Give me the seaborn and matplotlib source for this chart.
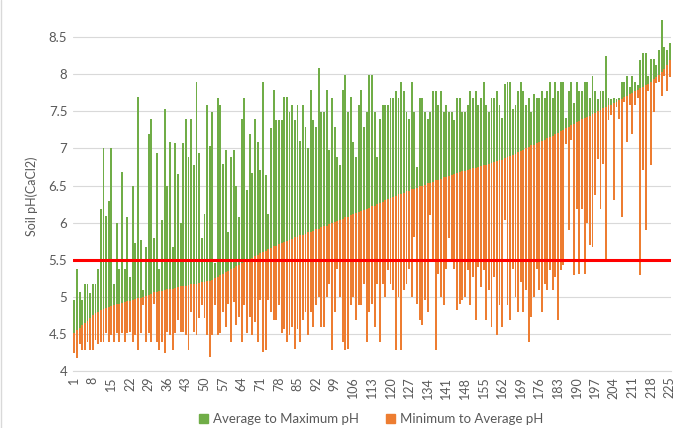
import pandas as pd
import matplotlib
matplotlib.use("Agg")
import matplotlib.pyplot as plt
import seaborn as sns
from matplotlib.patches import Patch
from matplotlib.lines import Line2D

# soil pH per site, sorted by average
ph_min = [
    4.24, 4.17, 4.37, 4.28, 4.28, 4.39, 4.28, 4.28, 4.42,
    4.37, 4.39, 4.39, 4.51, 4.39, 4.48, 4.39, 4.51, 4.39, 4.51, 4.39, 4.51, 4.53, 4.39, 4.48, 4.28, 4.51, 4.89, 4.39, 4.51, 4.39, 4.91,
    4.39, 4.28, 4.39, 4.24, 4.53, 4.48, 4.28, 4.51, 4.69, 4.53, 4.53, 4.48, 4.28, 4.80, 4.53, 4.48, 4.71, 4.89, 4.71, 4.48, 4.19, 4.48,
    4.89, 4.48, 4.51, 4.80, 4.60, 4.91, 4.39, 4.93, 4.62, 4.73, 4.39, 4.89, 4.51, 4.73, 4.48, 4.66, 4.39, 4.96, 4.26, 4.28, 4.96, 4.80,
    4.69, 4.69, 4.89, 4.51, 4.57, 4.39, 4.48, 4.60, 4.30, 4.57, 4.39, 4.69, 4.80, 4.48, 4.80, 4.60, 4.89, 5.00, 4.60, 4.60, 5.00, 5.18,
    4.28, 4.80, 5.38, 5.00, 4.39, 4.28, 4.30, 4.89, 5.00, 4.69, 4.89, 4.89, 5.18, 4.39, 4.80, 4.91, 4.60, 5.18, 4.39, 5.18, 5.00, 5.36,
    5.18, 5.09, 4.28, 5.00, 4.28, 5.09, 5.18, 5.38, 5.00, 5.81, 4.91, 4.69, 4.62, 4.96, 4.80, 6.10, 5.49, 4.28, 5.31, 5.00, 4.89, 5.38,
    5.79, 5.49, 5.38, 4.82, 4.91, 4.96, 5.00, 5.36, 4.89, 5.27, 4.69, 5.40, 5.13, 5.36, 4.69, 5.09, 4.60, 5.27, 4.48, 4.89, 4.60, 6.03,
    4.89, 4.69, 5.38, 5.00, 4.80, 5.20, 4.80, 5.09, 4.39, 4.73, 5.00, 5.38, 5.09, 4.80, 5.18, 5.09, 5.36, 5.09, 5.27, 4.69, 5.36, 5.43,
    7.06, 5.90, 7.11, 5.29, 6.19, 5.31, 6.19, 5.31, 5.99, 5.70, 5.67, 6.37, 6.86, 6.19, 6.79, 5.49, 7.38, 7.45, 6.30, 7.56, 7.40, 6.08,
    7.62, 7.09, 7.58, 7.20, 7.58, 7.68, 5.29, 6.71, 5.90, 7.78, 6.77, 7.49, 7.88, 7.90, 7.71, 7.98, 7.78, 7.96,
]
ph_avg = [
    4.51, 4.55, 4.58, 4.62, 4.65, 4.68, 4.71, 4.75, 4.78,
    4.80, 4.82, 4.84, 4.85, 4.87, 4.88, 4.89, 4.90, 4.91, 4.92, 4.93, 4.94, 4.95, 4.96, 4.97, 4.98, 4.99, 5.00, 5.01, 5.03, 5.04, 5.06,
    5.07, 5.08, 5.08, 5.09, 5.10, 5.11, 5.11, 5.12, 5.13, 5.14, 5.14, 5.15, 5.16, 5.17, 5.17, 5.18, 5.19, 5.20, 5.20, 5.21, 5.22, 5.23,
    5.25, 5.27, 5.29, 5.31, 5.33, 5.35, 5.37, 5.39, 5.41, 5.43, 5.45, 5.47, 5.49, 5.51, 5.53, 5.55, 5.57, 5.59, 5.61, 5.62, 5.64, 5.66,
    5.68, 5.69, 5.71, 5.72, 5.74, 5.75, 5.77, 5.78, 5.80, 5.81, 5.83, 5.84, 5.85, 5.87, 5.88, 5.89, 5.91, 5.92, 5.94, 5.95, 5.96, 5.98,
    5.99, 6.01, 6.02, 6.04, 6.05, 6.07, 6.08, 6.10, 6.11, 6.13, 6.14, 6.16, 6.17, 6.19, 6.20, 6.22, 6.23, 6.25, 6.27, 6.28, 6.30, 6.32,
    6.33, 6.35, 6.36, 6.38, 6.39, 6.40, 6.42, 6.43, 6.45, 6.46, 6.47, 6.49, 6.50, 6.51, 6.53, 6.54, 6.55, 6.57, 6.58, 6.59, 6.61, 6.62,
    6.63, 6.64, 6.65, 6.67, 6.68, 6.69, 6.70, 6.71, 6.72, 6.73, 6.74, 6.75, 6.76, 6.77, 6.78, 6.79, 6.80, 6.82, 6.83, 6.84, 6.85, 6.87,
    6.88, 6.90, 6.91, 6.93, 6.95, 6.97, 6.98, 7.00, 7.02, 7.04, 7.05, 7.07, 7.09, 7.10, 7.12, 7.14, 7.15, 7.17, 7.19, 7.21, 7.23, 7.25,
    7.27, 7.29, 7.31, 7.33, 7.35, 7.37, 7.39, 7.41, 7.42, 7.44, 7.46, 7.48, 7.50, 7.52, 7.54, 7.56, 7.58, 7.59, 7.61, 7.63, 7.65, 7.67,
    7.69, 7.71, 7.73, 7.75, 7.77, 7.79, 7.81, 7.83, 7.85, 7.87, 7.90, 7.93, 7.96, 7.99, 8.03, 8.07, 8.12, 8.19,
]
ph_max = [
    4.96, 5.38, 5.07, 4.96, 5.18, 5.18, 5.05, 5.18, 5.18,
    5.38, 6.19, 7.00, 6.09, 6.29, 7.00, 5.18, 5.99, 5.38, 6.68, 5.38, 6.08, 5.27, 6.49, 5.72, 7.69, 5.76, 5.09, 5.67, 7.19, 7.39, 5.79,
    6.94, 5.38, 6.03, 7.53, 6.50, 7.09, 5.67, 7.07, 6.65, 5.99, 7.07, 7.39, 6.88, 7.39, 6.77, 7.89, 6.94, 5.79, 6.12, 7.58, 7.03, 7.49,
    5.45, 7.68, 7.58, 6.79, 6.98, 5.88, 6.88, 6.98, 6.49, 6.08, 7.39, 7.68, 6.44, 7.19, 6.67, 7.39, 7.09, 6.71, 7.89, 6.64, 6.12, 7.28,
    7.79, 7.38, 7.38, 7.38, 7.69, 7.69, 7.49, 7.59, 7.38, 7.59, 7.10, 7.59, 7.29, 7.00, 7.79, 7.38, 7.29, 8.09, 7.49, 7.49, 7.79, 6.98,
    7.68, 7.29, 6.88, 6.78, 7.79, 7.99, 7.49, 7.69, 7.09, 6.88, 7.58, 7.79, 7.29, 7.49, 7.99, 7.99, 7.49, 6.88, 7.39, 7.59, 7.59, 7.59,
    7.68, 7.68, 7.78, 7.68, 7.89, 7.78, 7.49, 7.39, 7.89, 7.49, 6.75, 7.68, 7.68, 7.49, 7.39, 7.49, 7.78, 7.78, 7.59, 7.78, 7.49, 7.59,
    7.49, 7.49, 7.38, 7.68, 7.68, 7.49, 7.49, 7.59, 7.78, 7.68, 7.78, 7.59, 7.68, 7.89, 7.59, 7.49, 7.68, 7.68, 7.78, 7.59, 7.41, 7.87,
    7.89, 7.89, 7.53, 7.58, 7.78, 7.89, 7.78, 7.58, 7.68, 7.49, 7.73, 7.68, 7.68, 7.78, 7.68, 7.78, 7.89, 7.68, 7.89, 7.78, 7.89, 7.89,
    7.41, 7.78, 7.89, 7.61, 7.89, 7.78, 7.78, 7.89, 7.89, 7.68, 7.98, 7.78, 7.67, 7.78, 7.78, 8.25, 7.68, 7.67, 7.68, 7.66, 7.68, 7.89,
    7.89, 7.98, 7.83, 7.98, 7.89, 7.85, 8.19, 8.28, 8.28, 7.98, 8.20, 8.20, 8.12, 8.32, 8.73, 8.37, 8.32, 8.42,
]
sites = list(range(1, len(ph_avg) + 1))
y_ticks = [4, 4.5, 5, 5.5, 6, 6.5, 7, 7.5, 8, 8.5]
ph_threshold = 5.5

df = pd.DataFrame({"site": sites, "min": ph_min, "avg": ph_avg, "max": ph_max})
df["low"] = df["avg"] - df["min"]
df["high"] = df["max"] - df["avg"]

sns.set_style("white")
plt.rcParams["font.family"] = ["Lato", "DejaVu Sans"]

green = "#70AD47"
orange = "#ED7D31"
txt = "#595959"

fig = plt.figure(figsize=(6.75, 4.28), dpi=100)
ax = fig.add_axes([0.108, 0.133, 0.886, 0.867])

# orange: minimum -> average, green: average -> maximum
sns.barplot(data=df, x="site", y="low", bottom=df["min"].values, color=orange,
            saturation=1, width=0.72, errorbar=None, linewidth=0, ax=ax, zorder=2)
sns.barplot(data=df, x="site", y="high", bottom=df["avg"].values, color=green,
            saturation=1, width=0.72, errorbar=None, linewidth=0, ax=ax, zorder=2)

ax.axhline(ph_threshold, color="#FF0000", lw=2.2, zorder=3)

ax.set_ylim(4, 9)
ax.set_xlim(-0.5, len(sites) - 0.5)
ax.set_yticks(y_ticks)
ax.set_yticklabels([f"{v:g}" for v in y_ticks], fontsize=9.5, color=txt)
ax.set_xticks(range(0, len(sites), 7))
ax.set_xticklabels([str(s) for s in sites[::7]], rotation=90, fontsize=9, color=txt)
ax.tick_params(length=0, pad=4)
ax.grid(axis="y", color="#D9D9D9", lw=0.8, zorder=0)
ax.set_axisbelow(True)
for s in ["top", "right", "left"]:
    ax.spines[s].set_visible(False)
ax.spines["bottom"].set_color("#D9D9D9")

ax.set_xlabel("")
ax.set_ylabel("Soil pH(CaCl2)", fontsize=9, color=txt)
ax.yaxis.set_label_coords(-0.058, 0.47)

handles = [Patch(color=green, label="Average to Maximum pH"),
           Patch(color=orange, label="Minimum to Average pH")]
fig.legend(handles=handles, loc="center", bbox_to_anchor=(0.55, 0.02), ncol=2,
           frameon=False, fontsize=9.5, labelcolor=txt, handlelength=0.7,
           handleheight=0.7, handletextpad=0.4, columnspacing=2.0)

fig.add_artist(Line2D([0.002, 0.002], [0, 1], color="#D9D9D9", lw=1))

plt.savefig("out.png", dpi=100)
